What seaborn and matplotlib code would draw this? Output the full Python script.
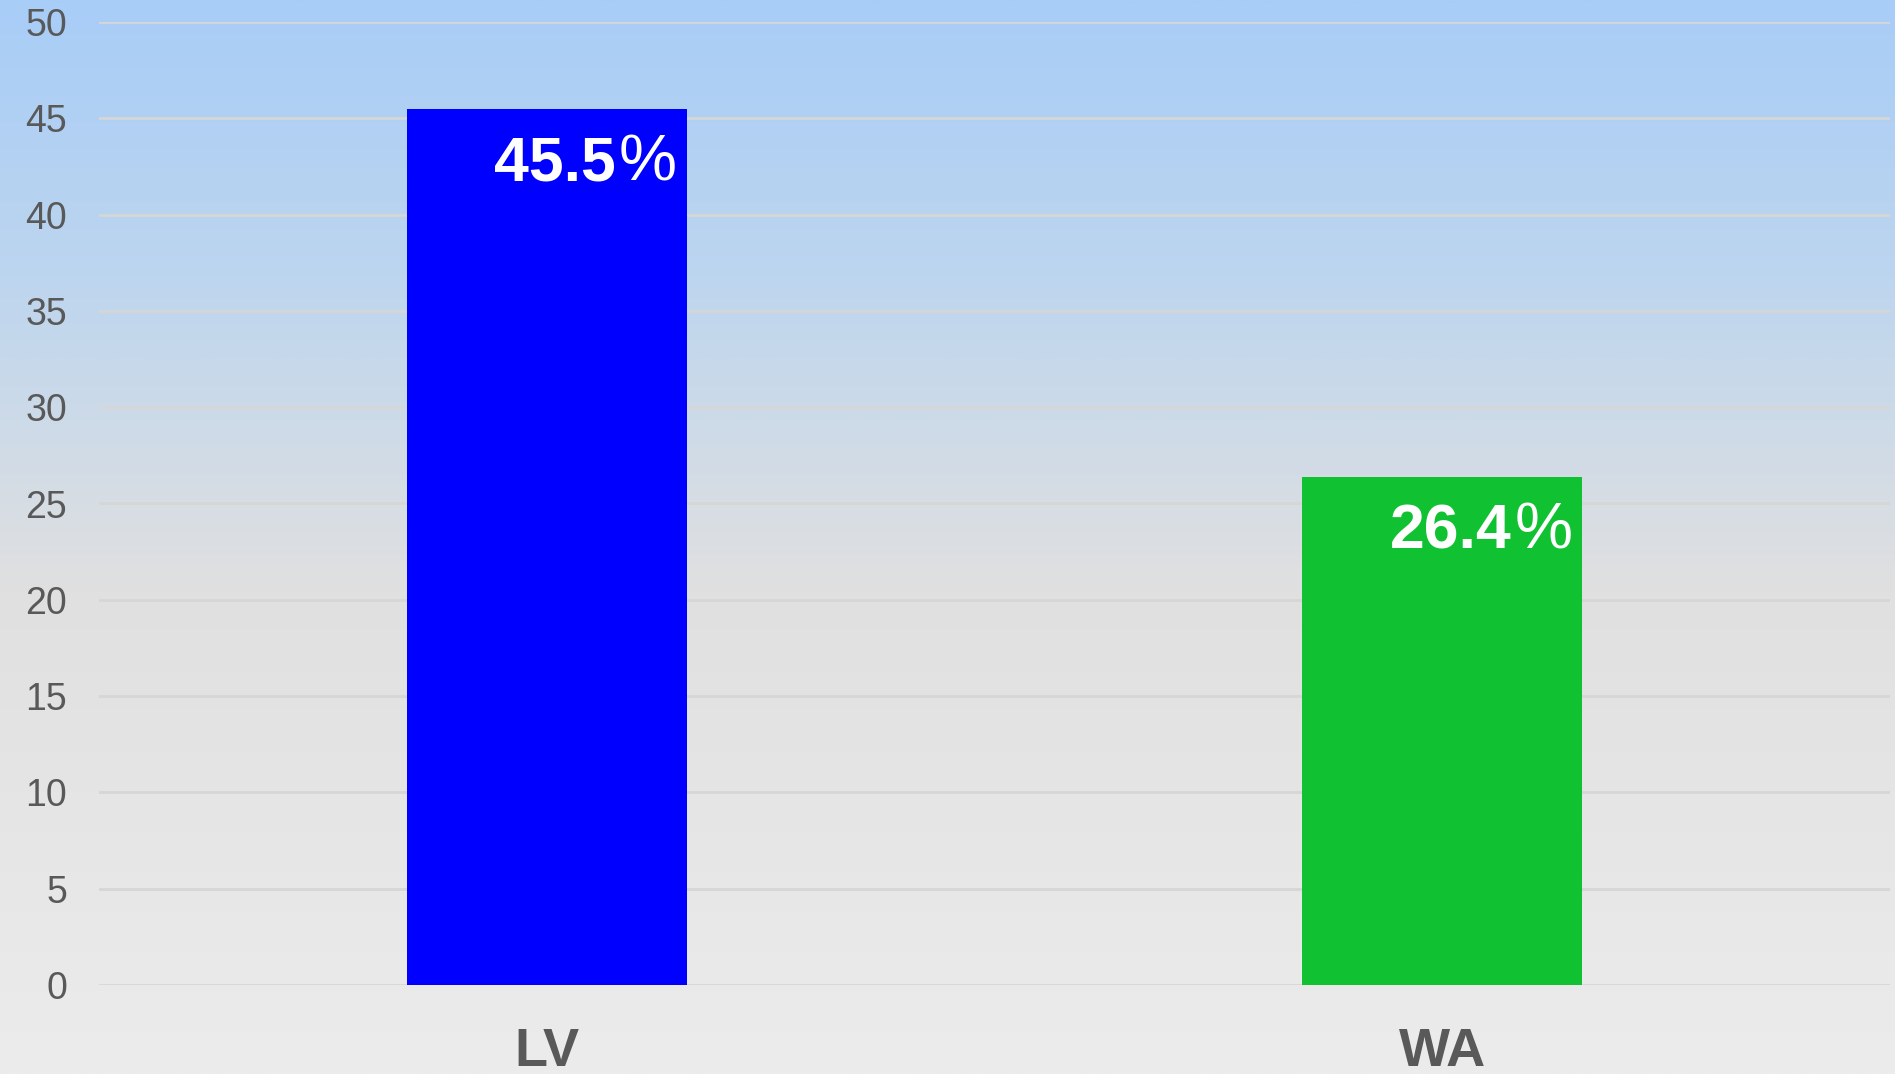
import numpy as np
import pandas as pd
import matplotlib
matplotlib.use("Agg")
import matplotlib.pyplot as plt
from matplotlib.colors import LinearSegmentedColormap
from matplotlib.transforms import offset_copy
import seaborn as sns

categories = ["LV", "WA"]
values = [45.5, 26.4]
number_labels = ["45.5", "26.4"]
bar_colors = ["#0000ff", "#10c232"]
yticks = [0, 5, 10, 15, 20, 25, 30, 35, 40, 45, 50]

sns.set_theme(style="white")
plt.rcParams["font.family"] = ["Liberation Sans", "DejaVu Sans"]

fig = plt.figure(figsize=(18.95, 10.74), dpi=100)

# gradient background
bg = fig.add_axes([0, 0, 1, 1], zorder=-10)
cmap = LinearSegmentedColormap.from_list(
    "bg", [(0.0, "#a8cdf7"), (0.25, "#bcd5ef"), (0.55, "#e0e0e0"), (1.0, "#ececec")])
grad = np.linspace(0, 1, 512).reshape(-1, 1)
bg.imshow(grad, aspect="auto", cmap=cmap, extent=[0, 1, 0, 1], origin="upper")
bg.set_axis_off()

ax = fig.add_axes([99 / 1895, 89 / 1074, (1890 - 99) / 1895, (985 - 22) / 1074])
ax.patch.set_alpha(0)

df = pd.DataFrame({"cat": categories, "val": values})
width = 0.3125
sns.barplot(data=df, x="cat", y="val", hue="cat", palette=bar_colors,
            width=width, legend=False, ax=ax, saturation=1, zorder=3,
            edgecolor="none", linewidth=0)

ax.set_xlim(-0.5, 1.5)
ax.set_ylim(0, 50)
ax.set_yticks(yticks)
ax.set_yticklabels([str(t) for t in yticks])
ax.grid(axis="y", color="#d6d6d6", linewidth=2, zorder=0)
ax.grid(axis="x", visible=False)
ax.set_axisbelow(True)
for s in ax.spines.values():
    s.set_visible(False)
ax.set_xlabel("")
ax.set_ylabel("")
ax.tick_params(axis="y", length=0, pad=23, labelsize=27, labelcolor="#595959")
ax.tick_params(axis="x", length=0, pad=30, labelsize=39, labelcolor="#595959")
for t in ax.get_xticklabels():
    t.set_fontweight("bold")

renderer = fig.canvas.get_renderer()
for i, (v, lab) in enumerate(zip(values, number_labels)):
    pct = ax.annotate("%", xy=(i + width / 2, v), xytext=(-7, -52),
                      textcoords="offset points", ha="right", va="baseline",
                      color="white", fontsize=47, fontweight="normal", zorder=5)
    w_px = pct.get_window_extent(renderer).width
    w_pt = w_px * 72 / fig.dpi
    ax.annotate(lab, xy=(i + width / 2, v), xytext=(-7 - w_pt - 2, -52),
                textcoords="offset points", ha="right", va="baseline",
                color="white", fontsize=45, fontweight="bold", zorder=5)

fig.savefig("out.png", dpi=100)
